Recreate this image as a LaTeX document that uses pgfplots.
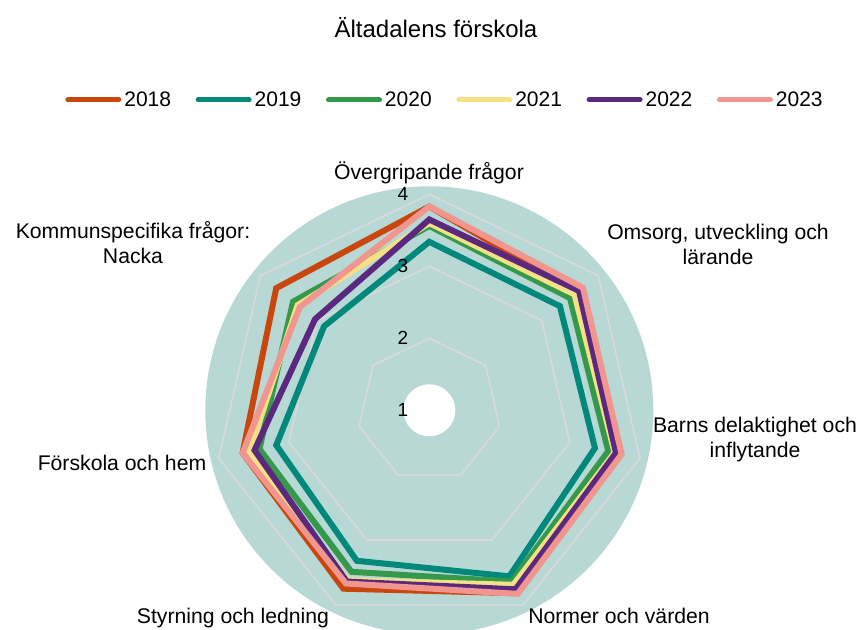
\documentclass[border=0pt]{standalone}
\usepackage{pgfplots}
\pgfplotsset{compat=1.18}
\usepackage{pgfplotstable}
\usepackage{fontspec}
\setmainfont{Liberation Sans}

\definecolor{c2018}{RGB}{201,70,13}
\definecolor{c2019}{RGB}{0,137,123}
\definecolor{c2020}{RGB}{52,153,74}
\definecolor{c2021}{RGB}{245,224,134}
\definecolor{c2022}{RGB}{91,40,128}
\definecolor{c2023}{RGB}{240,150,143}
\definecolor{bgteal}{RGB}{184,216,213}
\definecolor{gridgray}{RGB}{217,217,217}

% angle of each spoke (degrees), values per year
\pgfplotstableread{
ang       y2018 y2019 y2020 y2021 y2022 y2023
90        3.83  3.34  3.56  3.60  3.65  3.83
38.571    3.63  3.32  3.50  3.58  3.66  3.73
-12.857   3.60  3.36  3.55  3.64  3.66  3.74
-64.286   3.82  3.56  3.64  3.69  3.76  3.83
-115.714  3.75  3.32  3.49  3.62  3.64  3.67
-167.143  3.66  3.18  3.42  3.56  3.49  3.66
-218.571  3.72  2.87  3.42  3.34  3.03  3.30
}\radar

\def\cx{429.3}
\def\cy{218.7}
\def\s{72}

\begin{document}
\begin{tikzpicture}
\useasboundingbox (0,0) rectangle (861pt,629pt);
\begin{axis}[
  at={(0,0)}, anchor=south west,
  scale only axis, width=861pt, height=629pt,
  xmin=0, xmax=861, ymin=0, ymax=629,
  hide axis, clip=false,
  legend style={at={(axis cs:444,529)}, anchor=center, draw=none, fill=none,
    font=\fontsize{21}{24}\selectfont, inner sep=0pt, nodes={inner sep=0pt},
    /tikz/every odd column/.append style={column sep=3pt},
    /tikz/every even column/.append style={column sep=24.6pt}},
  legend columns=6,
  legend image code/.code={\draw[line width=5pt, line cap=round] (0pt,0pt) -- (51pt,0pt);},
]
% background doughnut
\fill[bgteal] (axis cs:\cx,\cy) circle[radius=224];
\fill[white] (axis cs:\cx,\cy) circle[radius=26];
% grid heptagons
\addplot[gridgray, line width=1.6pt, mark=none, forget plot]
  table[x expr={\cx+(2-1)*\s*cos(\thisrow{ang})}, y expr={\cy+(2-1)*\s*sin(\thisrow{ang})}] {\radar} -- cycle;
\addplot[gridgray, line width=1.6pt, mark=none, forget plot]
  table[x expr={\cx+(3-1)*\s*cos(\thisrow{ang})}, y expr={\cy+(3-1)*\s*sin(\thisrow{ang})}] {\radar} -- cycle;
\addplot[gridgray, line width=1.6pt, mark=none, forget plot]
  table[x expr={\cx+(4-1)*\s*cos(\thisrow{ang})}, y expr={\cy+(4-1)*\s*sin(\thisrow{ang})}] {\radar} -- cycle;
% series
\addplot[c2018, line width=6pt, mark=none]
  table[x expr={\cx+(\thisrow{y2018}-1)*\s*cos(\thisrow{ang})}, y expr={\cy+(\thisrow{y2018}-1)*\s*sin(\thisrow{ang})}] {\radar} -- cycle;
\addlegendentry{2018}
\addplot[c2019, line width=6pt, mark=none]
  table[x expr={\cx+(\thisrow{y2019}-1)*\s*cos(\thisrow{ang})}, y expr={\cy+(\thisrow{y2019}-1)*\s*sin(\thisrow{ang})}] {\radar} -- cycle;
\addlegendentry{2019}
\addplot[c2020, line width=6pt, mark=none]
  table[x expr={\cx+(\thisrow{y2020}-1)*\s*cos(\thisrow{ang})}, y expr={\cy+(\thisrow{y2020}-1)*\s*sin(\thisrow{ang})}] {\radar} -- cycle;
\addlegendentry{2020}
\addplot[c2021, line width=6pt, mark=none]
  table[x expr={\cx+(\thisrow{y2021}-1)*\s*cos(\thisrow{ang})}, y expr={\cy+(\thisrow{y2021}-1)*\s*sin(\thisrow{ang})}] {\radar} -- cycle;
\addlegendentry{2021}
\addplot[c2022, line width=6pt, mark=none]
  table[x expr={\cx+(\thisrow{y2022}-1)*\s*cos(\thisrow{ang})}, y expr={\cy+(\thisrow{y2022}-1)*\s*sin(\thisrow{ang})}] {\radar} -- cycle;
\addlegendentry{2022}
\addplot[c2023, line width=6pt, mark=none]
  table[x expr={\cx+(\thisrow{y2023}-1)*\s*cos(\thisrow{ang})}, y expr={\cy+(\thisrow{y2023}-1)*\s*sin(\thisrow{ang})}] {\radar} -- cycle;
\addlegendentry{2023}
% radial tick labels
\begin{scope}[every node/.style={font=\fontsize{19}{22}\selectfont, inner sep=0pt}]
\node at (axis cs:403,\cy) {1};
\node at (axis cs:403,\cy+1*\s) {2};
\node at (axis cs:403,\cy+2*\s) {3};
\node at (axis cs:403,\cy+3*\s) {4};
\end{scope}
% title and category labels
\node[anchor=base, font=\fontsize{24}{28}\selectfont, inner sep=0pt] at (axis cs:436,591.7) {Ältadalens förskola};
\begin{scope}[every node/.style={font=\fontsize{21.2}{25}\selectfont, inner sep=0pt, align=center}]
\node[anchor=base] at (axis cs:429,449) {Övergripande frågor};
\node[anchor=base] at (axis cs:718,364) {Omsorg, utveckling och\\lärande};
\node[anchor=base] at (axis cs:755,171) {Barns delaktighet och\\inflytande};
\node[anchor=base] at (axis cs:619,6) {Normer och värden};
\node[anchor=base] at (axis cs:233,6) {Styrning och ledning};
\node[anchor=base] at (axis cs:122,158) {Förskola och hem};
\node[anchor=base] at (axis cs:133,365) {Kommunspecifika frågor:\\Nacka};
\end{scope}
\end{axis}
\end{tikzpicture}
\end{document}
